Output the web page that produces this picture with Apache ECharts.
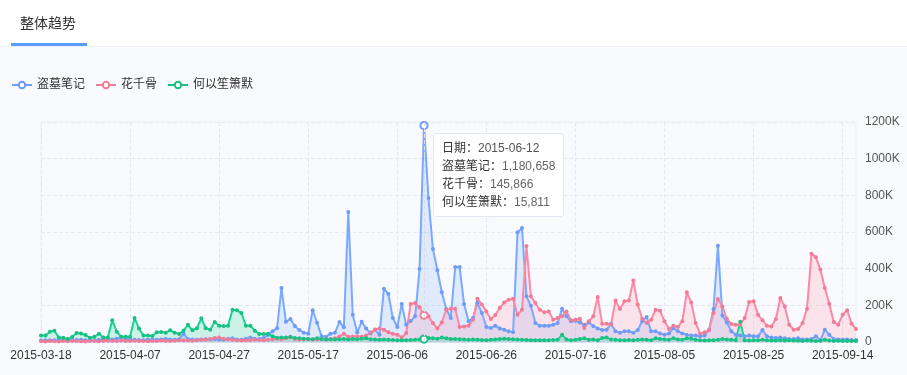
<!DOCTYPE html>
<html><head><meta charset="utf-8">
<script src="https://cdn.jsdelivr.net/npm/echarts@6/dist/echarts.min.js"></script>
<style>html,body{margin:0;padding:0;background:#fff}#c{width:907px;height:375px}</style>
</head><body><div id="c"></div>
<script>
const dates = [
'2015-03-18','2015-03-19','2015-03-20','2015-03-21','2015-03-22','2015-03-23','2015-03-24','2015-03-25','2015-03-26','2015-03-27','2015-03-28','2015-03-29','2015-03-30','2015-03-31',
'2015-04-01','2015-04-02','2015-04-03','2015-04-04','2015-04-05','2015-04-06','2015-04-07','2015-04-08','2015-04-09','2015-04-10','2015-04-11','2015-04-12','2015-04-13','2015-04-14','2015-04-15','2015-04-16','2015-04-17','2015-04-18','2015-04-19','2015-04-20','2015-04-21','2015-04-22','2015-04-23','2015-04-24','2015-04-25','2015-04-26','2015-04-27','2015-04-28','2015-04-29','2015-04-30',
'2015-05-01','2015-05-02','2015-05-03','2015-05-04','2015-05-05','2015-05-06','2015-05-07','2015-05-08','2015-05-09','2015-05-10','2015-05-11','2015-05-12','2015-05-13','2015-05-14','2015-05-15','2015-05-16','2015-05-17','2015-05-18','2015-05-19','2015-05-20','2015-05-21','2015-05-22','2015-05-23','2015-05-24','2015-05-25','2015-05-26','2015-05-27','2015-05-28','2015-05-29','2015-05-30','2015-05-31',
'2015-06-01','2015-06-02','2015-06-03','2015-06-04','2015-06-05','2015-06-06','2015-06-07','2015-06-08','2015-06-09','2015-06-10','2015-06-11','2015-06-12','2015-06-13','2015-06-14','2015-06-15','2015-06-16','2015-06-17','2015-06-18','2015-06-19','2015-06-20','2015-06-21','2015-06-22','2015-06-23','2015-06-24','2015-06-25','2015-06-26','2015-06-27','2015-06-28','2015-06-29','2015-06-30',
'2015-07-01','2015-07-02','2015-07-03','2015-07-04','2015-07-05','2015-07-06','2015-07-07','2015-07-08','2015-07-09','2015-07-10','2015-07-11','2015-07-12','2015-07-13','2015-07-14','2015-07-15','2015-07-16','2015-07-17','2015-07-18','2015-07-19','2015-07-20','2015-07-21','2015-07-22','2015-07-23','2015-07-24','2015-07-25','2015-07-26','2015-07-27','2015-07-28','2015-07-29','2015-07-30','2015-07-31',
'2015-08-01','2015-08-02','2015-08-03','2015-08-04','2015-08-05','2015-08-06','2015-08-07','2015-08-08','2015-08-09','2015-08-10','2015-08-11','2015-08-12','2015-08-13','2015-08-14','2015-08-15','2015-08-16','2015-08-17','2015-08-18','2015-08-19','2015-08-20','2015-08-21','2015-08-22','2015-08-23','2015-08-24','2015-08-25','2015-08-26','2015-08-27','2015-08-28','2015-08-29','2015-08-30','2015-08-31',
'2015-09-01','2015-09-02','2015-09-03','2015-09-04','2015-09-05','2015-09-06','2015-09-07','2015-09-08','2015-09-09','2015-09-10','2015-09-11','2015-09-12','2015-09-13','2015-09-14','2015-09-15','2015-09-16','2015-09-17'
];
const seriesNames = ['盗墓笔记', '花千骨', '何以笙箫默'];
const daomu = [
8000,9000,10000,10000,12000,11000,10000,12000,11000,12000,
10000,9000,10000,12000,14000,16000,14000,18000,25000,17000,
14000,12000,11000,10000,12000,13000,12000,14000,16000,14000,
12000,15000,45000,16000,13000,12000,14000,15000,14000,16000,
13000,12000,18000,20000,14000,12000,18000,24000,18000,16000,
22000,40000,58000,75000,294000,110000,125000,87000,66000,51000,
45000,173000,105000,31000,29000,45000,51000,109000,80000,709000,
149000,53000,110000,74000,47000,67000,40000,291000,262000,131000,
82000,207000,94000,115000,140000,398000,1180658,785000,507000,391000,
271000,180000,131000,409000,409000,207000,113000,131000,213000,158000,
82000,76000,89000,74000,67000,58000,53000,598000,622000,249000,
198000,103000,89000,89000,89000,94000,103000,182000,140000,113000,
116000,107000,94000,107000,87000,74000,66000,67000,100000,58000,
51000,58000,58000,51000,66000,113000,136000,58000,58000,47000,
40000,47000,76000,58000,47000,40000,35000,35000,31000,35000,
66000,180000,525000,144000,107000,58000,40000,35000,31000,36000,
31000,31000,66000,31000,24000,22000,24000,20000,16000,16000,
20000,13000,13000,16000,31000,9000,67000,40000,16000,13000,
13000,13000,11000,11000
];
const huaqiangu = [
4000,3000,5000,4000,3000,5000,4000,6000,5000,4000,
3000,5000,6000,4000,5000,7000,6000,5000,8000,6000,
5000,7000,6000,5000,4000,5000,6000,8000,6000,5000,
7000,9000,10000,8000,7000,9000,12000,14000,16000,22000,
24000,18000,14000,12000,10000,8000,9000,10000,12000,11000,
10000,12000,14000,18000,15000,20000,28000,16000,14000,15000,
16000,14000,13000,15000,14000,16000,20000,30000,45000,28000,
30000,32000,28000,35000,52000,68000,74000,67000,53000,45000,
40000,25000,49000,207000,213000,189000,145866,140000,103000,74000,
107000,176000,182000,182000,82000,85000,89000,122000,236000,204000,
167000,125000,147000,185000,216000,231000,236000,149000,176000,523000,
249000,213000,176000,162000,167000,122000,131000,140000,167000,119000,
122000,127000,76000,113000,140000,245000,100000,100000,95000,227000,
180000,222000,227000,336000,204000,127000,103000,122000,176000,171000,
113000,71000,89000,82000,113000,271000,216000,103000,45000,53000,
64000,158000,234000,194000,127000,98000,94000,94000,131000,218000,
222000,149000,118000,89000,85000,125000,240000,194000,94000,67000,
71000,103000,182000,482000,462000,395000,295000,209000,109000,94000,
149000,173000,100000,71000
];
const heyi = [
36000,35000,56000,62000,24000,23000,16000,27000,49000,47000,
38000,23000,29000,45000,25000,25000,118000,56000,29000,29000,
29000,131000,73000,36000,35000,33000,53000,55000,51000,64000,
51000,44000,62000,94000,64000,75000,129000,75000,67000,109000,
89000,87000,89000,176000,173000,158000,89000,89000,62000,44000,
44000,45000,31000,23000,25000,24000,27000,22000,20000,18000,
17000,15000,20000,16000,14000,15000,13000,15000,16000,14000,
17000,15000,18000,20000,15000,14000,12000,13000,12000,11000,
10000,9000,10000,11000,12000,14000,15811,22000,20000,18000,
24000,20000,17000,16000,15000,14000,12000,13000,12000,11000,
10000,12000,14000,16000,18000,17000,15000,13000,12000,11000,
10000,10000,9000,9000,10000,11000,12000,40000,13000,10000,
12000,16000,20000,12000,14000,10000,22000,24000,14000,12000,
10000,10000,11000,10000,12000,14000,12000,10000,20000,16000,
14000,12000,20000,14000,12000,20000,18000,12000,10000,8000,
9000,10000,12000,16000,14000,12000,10000,111000,10000,8000,
9000,10000,12000,9000,8000,8000,9000,8000,10000,8000,
7000,6000,8000,7000,6000,7000,12000,8000,6000,7000,
6000,5000,6000,5000
];
const colors = ['#6F9BF6', '#F07C96', '#18C083'];
const tooltipIndex = 86;
const FONT = "'Liberation Sans','Noto Sans CJK SC',sans-serif";

const chart = echarts.init(document.getElementById('c'), null, {renderer: 'canvas'});
const fmt = v => v.toLocaleString('en-US');
const dataArr = [daomu, huaqiangu, heyi];

chart.setOption({
  animation: false,
  backgroundColor: '#F9FAFD',
  color: colors,
  textStyle: {fontFamily: FONT},
  graphic: [
    {type: 'rect', shape: {x: 0, y: 0, width: 907, height: 46}, style: {fill: '#ffffff'}, z: 0},
    {type: 'line', shape: {x1: 0, y1: 46.5, x2: 907, y2: 46.5}, style: {stroke: '#EEF0F5', lineWidth: 1}, z: 1},
    {type: 'rect', shape: {x: 11, y: 43, width: 76, height: 3}, style: {fill: '#5C9DFA'}, z: 2},
    {type: 'text', x: 20, y: 23, style: {text: '整体趋势', fill: '#333', font: "14px 'Noto Sans CJK SC',sans-serif", verticalAlign: 'middle'}, z: 2}
  ],
  legend: {
    left: 11, top: 79, padding: 0, itemWidth: 20, itemHeight: 8, itemGap: 10,
    textStyle: {fontSize: 12, color: '#333', fontFamily: FONT},
    data: seriesNames.map((n, i) => ({
      name: n,
      itemStyle: {color: '#fff', borderColor: colors[i], borderWidth: 2}
    }))
  },
  grid: {left: 41, right: 51, top: 122, bottom: 33, show: true, borderColor: '#EEF1F8', borderWidth: 1, backgroundColor: 'transparent'},
  tooltip: {
    trigger: 'axis', alwaysShowContent: true, transitionDuration: 0,
    backgroundColor: '#fff', borderColor: '#E3E8F4', borderWidth: 1, padding: [5, 8],
    extraCssText: 'box-shadow:none;border-radius:3px;',
    textStyle: {fontSize: 12, color: '#333', fontFamily: FONT},
    axisPointer: {type: 'line', lineStyle: {color: '#DADDE5', width: 1}},
    position: (pt) => [pt[0] + 9, 133],
    formatter: (ps) => {
      let s = '<div style="line-height:18px">日期：<span style="color:#555">' + ps[0].axisValue + '</span></div>';
      ps.forEach(p => {
        s += '<div style="line-height:18px">' + p.seriesName + '：<span style="color:#666">' + fmt(p.value) + '</span></div>';
      });
      return s;
    }
  },
  xAxis: {
    type: 'category', data: dates, boundaryGap: false,
    axisLine: {lineStyle: {color: '#D6DEF2'}},
    axisTick: {show: false},
    axisLabel: {interval: 19, color: '#333', fontSize: 12, margin: 8, fontFamily: FONT},
    splitLine: {show: true, interval: 19, lineStyle: {type: 'dashed', color: '#E6E9F4'}}
  },
  yAxis: {
    type: 'value', position: 'right', min: 0, max: 1200000, interval: 200000,
    axisLine: {show: false}, axisTick: {show: false},
    axisLabel: {color: '#555', fontSize: 12, margin: 9, fontFamily: FONT,
      formatter: v => v === 0 ? '0' : (v / 1000) + 'K'},
    splitLine: {lineStyle: {type: 'dashed', color: '#E6E9F4'}}
  },
  series: seriesNames.map((n, i) => ({
    name: n, type: 'line', data: dataArr[i],
    symbol: 'circle', symbolSize: 4, showAllSymbol: true,
    itemStyle: {color: colors[i]},
    lineStyle: {width: 2, color: colors[i]},
    areaStyle: {opacity: 0.2, color: colors[i]},
    emphasis: {scale: 1.8, focus: 'none', areaStyle: {opacity: 0.2},
      itemStyle: {color: '#fff', borderColor: colors[i], borderWidth: 2}}
  }))
});
chart.dispatchAction({type: 'showTip', seriesIndex: 0, dataIndex: tooltipIndex});
</script></body></html>
